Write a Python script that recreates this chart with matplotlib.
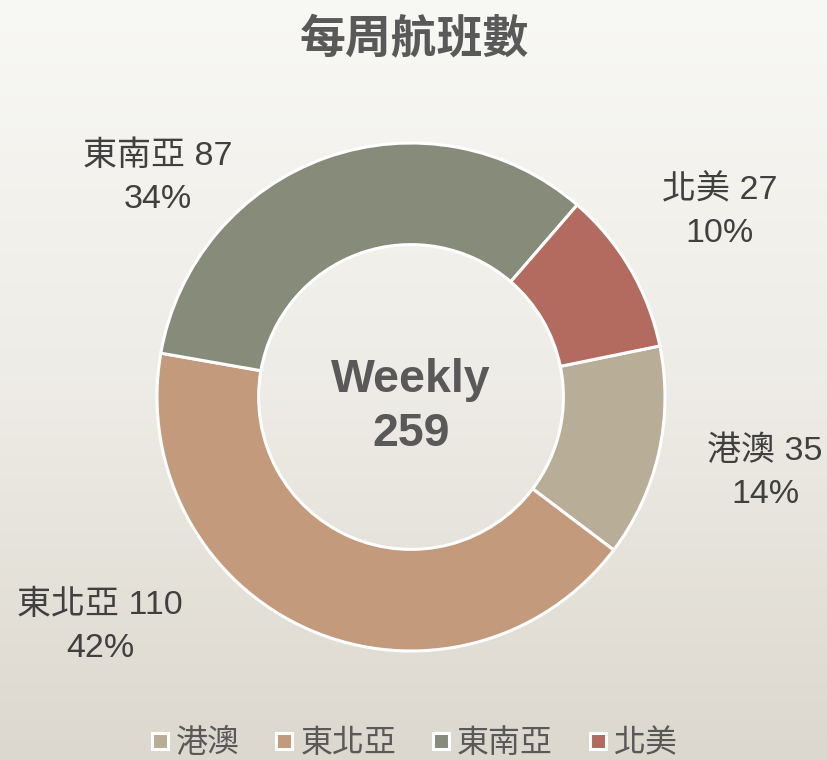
import matplotlib
matplotlib.use("Agg")
import matplotlib.pyplot as plt
import numpy as np
from matplotlib.lines import Line2D
from matplotlib.colors import LinearSegmentedColormap

plt.rcParams['font.family'] = ['Liberation Sans', 'Noto Sans CJK TC', 'DejaVu Sans']

# data
categories = ['港澳', '東北亞', '東南亞', '北美']
values = [35, 110, 87, 27]
colors = ['#B8AE98', '#C49A7C', '#878C7A', '#B36B5F']
title = '每周航班數'
center_label = 'Weekly'

W, H = 828, 760
fig = plt.figure(figsize=(W / 100, H / 100), dpi=100)

# background gradient
bg = fig.add_axes([0, 0, 1, 1], zorder=0)
grad = np.linspace(0, 1, 256).reshape(-1, 1)
cmap = LinearSegmentedColormap.from_list('bg', ['#F8F8F5', '#EEECE6', '#DCD8CE'])
bg.imshow(grad, aspect='auto', cmap=cmap, extent=[0, 1, 0, 1], origin='upper')
bg.axis('off')

# pie axes in pixel-like units
cx, cy, R = 411, 397, 254
ax = fig.add_axes([0, 0, 1, 1], zorder=1)
ax.patch.set_alpha(0)

total = sum(values)
ax.pie(values, colors=colors, startangle=11.6, counterclock=False, radius=1.0,
       wedgeprops=dict(width=0.4, edgecolor='white', linewidth=2.2))
ax.set_aspect('auto')
ax.set_xlim(-cx / R, (W - cx) / R)
ax.set_ylim(-(H - cy) / R, cy / R)
ax.axis('off')

def P(px, py):
    return (px - cx) / R, (cy - py) / R

label_pos = {'港澳': (765, 473), '東北亞': (100, 627), '東南亞': (158, 178), '北美': (720, 212)}
for c, v in zip(categories, values):
    pct = round(v / total * 100)
    x, y = P(*label_pos[c])
    ax.text(x, y, f'{c} {v}\n{pct}%', ha='center', va='center', fontsize=24.5,
            color='#404040', linespacing=1.5)

x, y = P(411, 407)
ax.text(x, y, f'{center_label}\n{total}', ha='center', va='center', fontsize=33.5,
        fontweight='bold', color='#595959', linespacing=1.3)

fig.text(0.5, 1 - 40 / H, title, ha='center', va='center', fontsize=33,
         fontweight='bold', color='#595959',
         family=['Noto Sans CJK TC', 'DejaVu Sans'])

handles = [Line2D([], [], marker='s', linestyle='none', markersize=11,
                  markerfacecolor=c, markeredgecolor='white', markeredgewidth=2.2)
           for c in colors]
leg = fig.legend(handles, categories, loc='center', bbox_to_anchor=(0.5, 1 - 744 / H),
                 ncol=4, frameon=False, fontsize=23, handletextpad=0.2,
                 columnspacing=1.1, handlelength=0.6)
for t in leg.get_texts():
    t.set_color('#595959')

fig.savefig('out.png', dpi=100)
